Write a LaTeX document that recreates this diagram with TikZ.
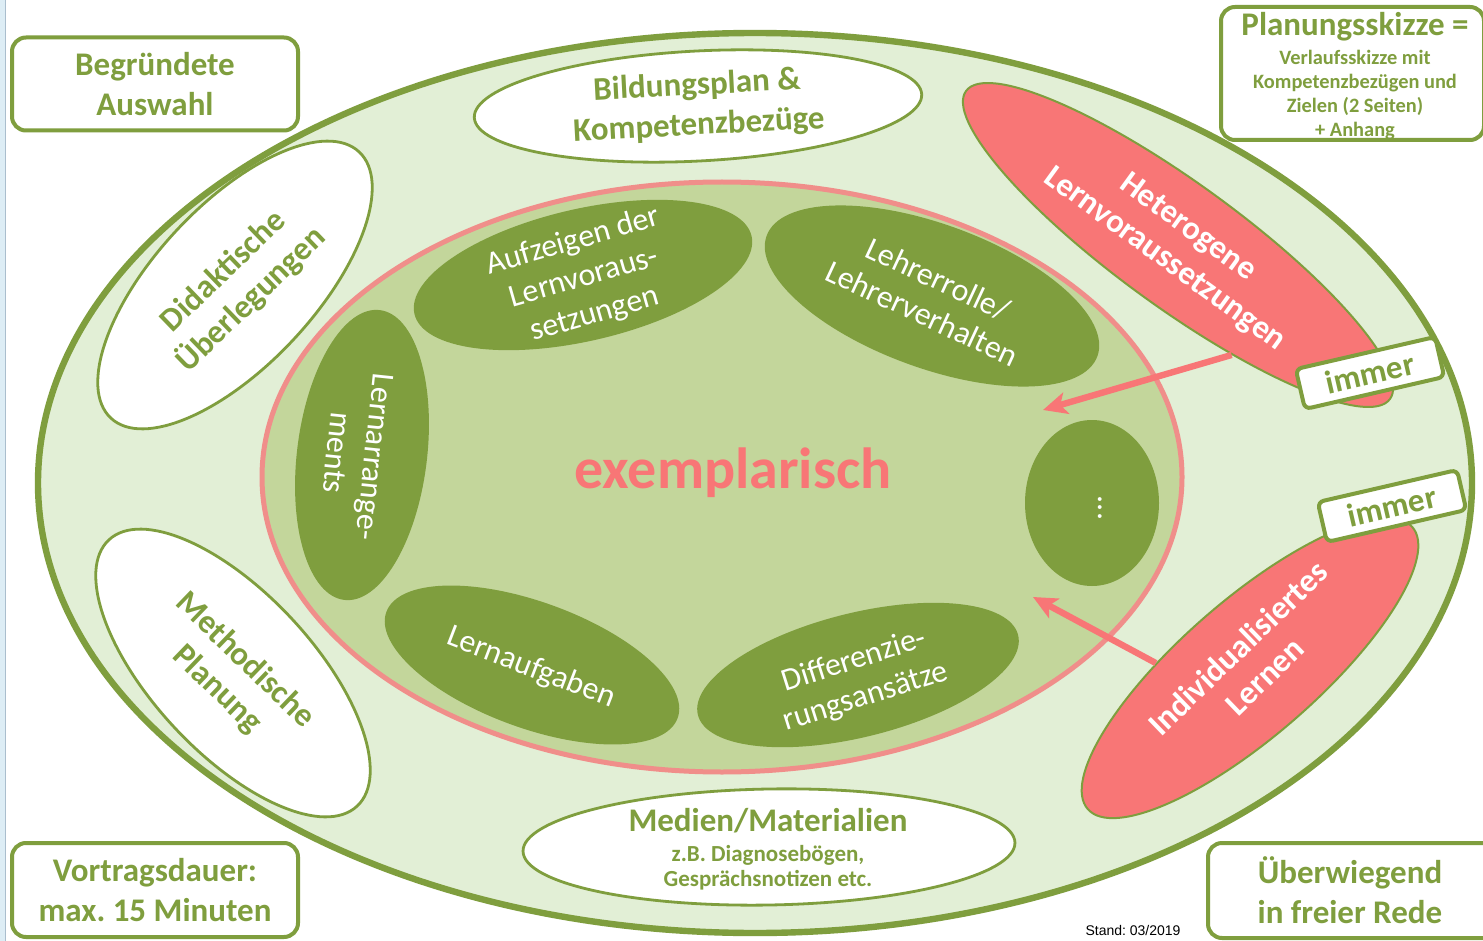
\documentclass[tikz,border=0pt]{standalone}
\usepackage{fontspec}
\setmainfont{Carlito}
\newfontfamily\arialfont{Liberation Sans}
\usetikzlibrary{shapes.geometric,arrows.meta}
\definecolor{grnline}{RGB}{127,158,62}
\definecolor{grnlight}{RGB}{226,239,214}
\definecolor{grnmid}{RGB}{195,214,155}
\definecolor{rosa}{RGB}{248,118,118}
\definecolor{rosaline}{RGB}{240,142,138}
\definecolor{edgeblue}{RGB}{221,237,245}
\definecolor{edgegray}{RGB}{170,190,205}
\frenchspacing

\begin{document}
\begin{tikzpicture}
[x=0.5pt,y=-0.5pt,every node/.style={inner sep=0pt,align=center},
 sz/.style 2 args={minimum width=#1pt,minimum height=#2pt},
 ring/.style={ellipse,draw=grnline,line width=1.4pt,fill=white},
 blob/.style={ellipse,fill=grnline},
 hotblob/.style={ellipse,draw=grnline,line width=1pt,fill=rosa},
 greenbox/.style={rectangle,rounded corners=7pt,draw=grnline,line width=2pt,fill=white,text=grnline,font=\bfseries\fontsize{16.5}{20}\selectfont},
 tagbox/.style={greenbox,rounded corners=3pt,sz={71.5}{20.5}},
 bigtxt/.style={text=grnline,font=\bfseries\fontsize{16.5}{20}\selectfont},
 smalltxt/.style={text=grnline,font=\bfseries\fontsize{10.2}{12}\selectfont},
 whitetxt/.style={text=white,font=\fontsize{16}{19}\selectfont},
 pinktxt/.style={text=white,font=\bfseries\fontsize{16.5}{19.5}\selectfont},
 arrowline/.style={draw=rosa,line width=3.2pt,-{Stealth[length=12pt,width=11pt,inset=3pt]}}]
  \clip (0,0) rectangle (1483,941);
  \fill[white] (0,0) rectangle (1483,941);
  \fill[edgeblue] (0,0) rectangle (5,941);
  \draw[edgegray,line width=0.5pt] (5.5,0) -- (5.5,941);

  \node[ellipse,draw=grnline,line width=3.2pt,fill=grnlight,sz={717}{450}] (outer) at (755,483) {};
  \node[ring,sz={224}{55},rotate=3] (bild) at (698,106) {};
  \node[ring,sz={182}{80},rotate=47] (did) at (235,285) {};
  \node[ring,sz={182}{80},rotate=-47] (meth) at (233,673) {};
  \node[ring,sz={246}{58},rotate=1] (med) at (769,847) {};
  \node[ellipse,draw=rosaline,line width=2.5pt,fill=grnmid,sz={460}{295}] (inner) at (722,477) {};

  \node[blob,sz={173}{66},rotate=13] (auf) at (583,275) {};
  \node[blob,sz={176}{72},rotate=-20] (lehr) at (932,296) {};
  \node[blob,sz={146}{65},rotate=-97] (arr) at (362,455) {};
  \node[blob,sz={155}{63},rotate=-20] (aufg) at (532,665) {};
  \node[blob,sz={165}{62},rotate=14] (diff) at (858,675) {};
  \node[blob,sz={67}{83}] (more) at (1092,503) {};

  \node[hotblob,sz={262}{62},rotate=-36] (het) at (1178,245) {};
  \node[hotblob,sz={215}{68},rotate=41] (ind) at (1250,668) {};

  \coordinate (hetend) at (1043,410);
  \coordinate (indend) at (1033,597);
  \foreach \from/\to in {het.-28/hetend, ind.136/indend}
    \draw[arrowline] (\from) -- (\to);

  \node[tagbox,rotate=13] (imm1) at (1370,373) {immer};
  \node[tagbox,rotate=13] (imm2) at (1392,506) {immer};

  \node[bigtxt,rotate=3] (bildtxt) at (698,106) {Bildungsplan \&\\Kompetenzbezüge};
  \node[bigtxt,rotate=44] (didtxt) at (238,286) {Didaktische\\Überlegungen};
  \node[bigtxt,rotate=-44] (methtxt) at (231,675) {Methodische\\Planung};
  \node[bigtxt] (medtitle) at (768,821) {Medien/Materialien};
  \node[font=\bfseries\fontsize{11.5}{12.5}\selectfont,text=grnline] (medsub) at (768,868) {z.B. Diagnosebögen,\\Gesprächsnotizen etc.};

  \node[whitetxt,rotate=16] (auftxt) at (584,278) {Aufzeigen der\\Lernvoraus-\\setzungen};
  \node[whitetxt,rotate=-25] (lehrtxt) at (930,296) {Lehrerrolle/\\Lehrerverhalten};
  \node[whitetxt,rotate=-96] (arrtxt) at (356,455) {Lernarrange-\\ments};
  \node[whitetxt,rotate=-21] (aufgtxt) at (531,668) {Lernaufgaben};
  \node[whitetxt,rotate=17.5] (difftxt) at (860,679) {Differenzie-\\rungsansätze};
  \node[whitetxt,rotate=-90] (moretxt) at (1100,508) {...};
  \node[text=rosa,font=\bfseries\fontsize{29}{30}\selectfont] (ex) at (733,473) {exemplarisch};

  \node[pinktxt,rotate=-36] (hettxt) at (1176,244) {Heterogene\\Lernvoraussetzungen};
  \node[pinktxt,rotate=44] (indtxt) at (1251,662) {Individualisiertes\\Lernen};

  \node[greenbox,sz={143}{46.5}] (ausw) at (155,84) {Begründete\\Auswahl};
  \node[greenbox,sz={131.5}{66.5}] (plan) at (1352.5,73.5) {};
  \node[bigtxt] (plantitle) at (1355,27) {Planungsskizze =};
  \node[smalltxt] (plansub) at (1355,95) {Verlaufsskizze mit\\Kompetenzbezügen und\\Zielen (2 Seiten)\\+ Anhang};
  \node[greenbox,sz={143}{47}] (dauer) at (155,890) {Vortragsdauer:\\max. 15 Minuten};
  \node[greenbox,sz={150}{47.5}] (rede) at (1358,890.5) {};
  \node[bigtxt] (redetxt) at (1350,890) {Überwiegend\\in freier Rede};
  \node[font=\arialfont\fontsize{7}{8}\selectfont] (stand) at (1133,930) {Stand: 03/2019};
\end{tikzpicture}
\end{document}
